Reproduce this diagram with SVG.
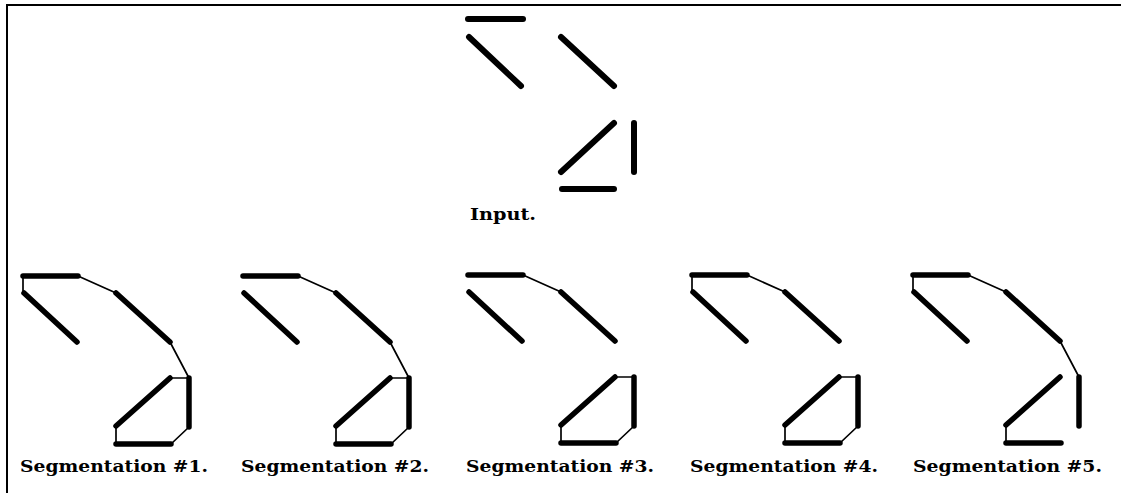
<svg xmlns="http://www.w3.org/2000/svg" xmlns:xlink="http://www.w3.org/1999/xlink" width="1121" height="493" viewBox="0 0 1121 493">
<style>
.thick{stroke:#000;stroke-width:6;stroke-linecap:round;fill:none}
.pthick{stroke:#000;stroke-width:5.5;stroke-linecap:round;fill:none}
.thin{stroke:#000;stroke-width:1.7;stroke-linecap:round;fill:none}
.frame{stroke:#000;stroke-width:2;fill:none}
.lbl{font-family:"DejaVu Serif","Liberation Serif",serif;font-weight:bold;font-size:16.5px;fill:#000}
</style>
<defs>
<g id="segs">
<line class="pthick" x1="0" y1="0" x2="55" y2="0"/>
<line class="pthick" x1="1" y1="17" x2="54" y2="66"/>
<line class="pthick" x1="93" y1="17" x2="147" y2="66"/>
<line class="pthick" x1="93" y1="150" x2="147" y2="102"/>
<line class="pthick" x1="166" y1="102" x2="166" y2="151"/>
<line class="pthick" x1="93" y1="168" x2="148" y2="168"/>
</g>
</defs>
<rect width="1121" height="493" fill="#fff"/>
<path class="frame" d="M7,493 V5 H1121"/>
<g id="input">
<line class="thick" x1="468" y1="19" x2="523" y2="19"/>
<line class="thick" x1="469" y1="37" x2="521" y2="86"/>
<line class="thick" x1="561" y1="37" x2="614" y2="86"/>
<line class="thick" x1="561" y1="172" x2="614" y2="123"/>
<line class="thick" x1="634" y1="123" x2="634" y2="172"/>
<line class="thick" x1="562" y1="189" x2="614" y2="189"/>
<text class="lbl" x="470" y="220" textLength="66" lengthAdjust="spacingAndGlyphs">Input.</text>
</g>
<g id="seg1">
<use xlink:href="#segs" href="#segs" transform="translate(23,276)"/>
<text class="lbl" x="20" y="472" textLength="188" lengthAdjust="spacingAndGlyphs">Segmentation #1.</text>
</g>
<g id="seg2">
<use xlink:href="#segs" href="#segs" transform="translate(243,276)"/>
<text class="lbl" x="241" y="472" textLength="188" lengthAdjust="spacingAndGlyphs">Segmentation #2.</text>
</g>
<g id="seg3">
<use xlink:href="#segs" href="#segs" transform="translate(468,275)"/>
<text class="lbl" x="466" y="472" textLength="188" lengthAdjust="spacingAndGlyphs">Segmentation #3.</text>
</g>
<g id="seg4">
<use xlink:href="#segs" href="#segs" transform="translate(692,275)"/>
<text class="lbl" x="690" y="472" textLength="188" lengthAdjust="spacingAndGlyphs">Segmentation #4.</text>
</g>
<g id="seg5">
<use xlink:href="#segs" href="#segs" transform="translate(913,275)"/>
<text class="lbl" x="913" y="472" textLength="189" lengthAdjust="spacingAndGlyphs">Segmentation #5.</text>
</g>
<g id="connectors">
<g transform="translate(23,276)">
<line class="thin" x1="0" y1="0" x2="0" y2="17"/>
<line class="thin" x1="55" y1="0" x2="93" y2="17"/>
<line class="thin" x1="147" y1="66" x2="166" y2="102"/>
<line class="thin" x1="147" y1="102" x2="166" y2="102"/>
<line class="thin" x1="166" y1="151" x2="148" y2="168"/>
<line class="thin" x1="93" y1="168" x2="93" y2="150"/>
</g>
<g transform="translate(243,276)">
<line class="thin" x1="55" y1="0" x2="93" y2="17"/>
<line class="thin" x1="147" y1="66" x2="166" y2="102"/>
<line class="thin" x1="147" y1="102" x2="166" y2="102"/>
<line class="thin" x1="166" y1="151" x2="148" y2="168"/>
<line class="thin" x1="93" y1="168" x2="93" y2="150"/>
</g>
<g transform="translate(468,275)">
<line class="thin" x1="55" y1="0" x2="93" y2="17"/>
<line class="thin" x1="147" y1="102" x2="166" y2="102"/>
<line class="thin" x1="166" y1="151" x2="148" y2="168"/>
<line class="thin" x1="93" y1="168" x2="93" y2="150"/>
</g>
<g transform="translate(692,275)">
<line class="thin" x1="0" y1="0" x2="0" y2="17"/>
<line class="thin" x1="55" y1="0" x2="93" y2="17"/>
<line class="thin" x1="147" y1="102" x2="166" y2="102"/>
<line class="thin" x1="166" y1="151" x2="148" y2="168"/>
<line class="thin" x1="93" y1="168" x2="93" y2="150"/>
</g>
<g transform="translate(913,275)">
<line class="thin" x1="0" y1="0" x2="0" y2="17"/>
<line class="thin" x1="55" y1="0" x2="93" y2="17"/>
<line class="thin" x1="147" y1="66" x2="166" y2="102"/>
<line class="thin" x1="93" y1="168" x2="93" y2="150"/>
</g>
</g>
</svg>
